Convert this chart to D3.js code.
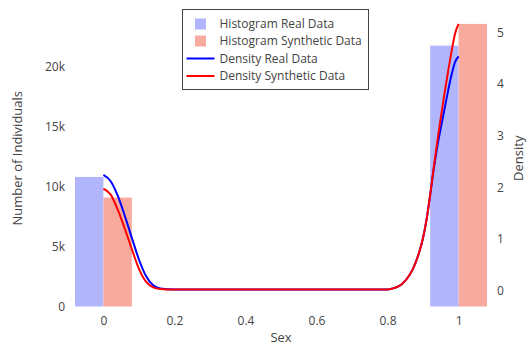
<!DOCTYPE html>
<html>
<head>
<meta charset="utf-8">
<script src="https://cdn.jsdelivr.net/npm/d3@7"></script>
<style>
  html, body { margin: 0; padding: 0; background: #fff; }
  svg { display: block; font-family: "Open Sans", Verdana, Arial, sans-serif; }
</style>
</head>
<body>
<svg id="chart" width="530" height="347"></svg>
<script>
// ---- data ----
const categories = [0, 1];
const histReal = [10800, 21750];
const histSynth = [9080, 23560];

const densRealX = [0, 0.02, 0.04, 0.06, 0.08, 0.1, 0.12, 0.14, 0.16, 0.2, 0.4, 0.6, 0.8, 0.82, 0.84, 0.86, 0.87, 0.88, 0.89, 0.9, 0.91, 0.92, 0.93, 0.94, 0.95, 0.96, 0.97, 0.98, 0.99, 1];
const densRealY = [2.24, 2.12, 1.84, 1.45, 1.02, 0.60, 0.28, 0.10, 0.04, 0.02, 0.02, 0.02, 0.02, 0.05, 0.12, 0.28, 0.40, 0.56, 0.76, 1.02, 1.38, 1.85, 2.35, 2.78, 3.15, 3.50, 3.85, 4.17, 4.42, 4.53];
const densSynthX = [0, 0.02, 0.04, 0.06, 0.08, 0.1, 0.12, 0.14, 0.16, 0.2, 0.4, 0.6, 0.8, 0.82, 0.84, 0.86, 0.87, 0.88, 0.89, 0.9, 0.91, 0.92, 0.93, 0.94, 0.95, 0.96, 0.97, 0.98, 0.99, 1];
const densSynthY = [1.97, 1.86, 1.57, 1.20, 0.80, 0.42, 0.17, 0.06, 0.03, 0.02, 0.02, 0.02, 0.02, 0.05, 0.12, 0.28, 0.40, 0.56, 0.76, 1.02, 1.38, 1.85, 2.38, 2.88, 3.35, 3.80, 4.22, 4.62, 4.97, 5.16];

const xTicks = [0, 0.2, 0.4, 0.6, 0.8, 1];
const yLeftTicks = [0, 5000, 10000, 15000, 20000];
const yLeftTickLabels = ["0", "5k", "10k", "15k", "20k"];
const yRightTicks = [0, 1, 2, 3, 4, 5];

const legendLabels = ["Histogram Real Data", "Histogram Synthetic Data", "Density Real Data", "Density Synthetic Data"];

// ---- layout ----
const plotL = 75, plotR = 487, plotT = 10, plotB = 306.5;
const halfBin = 0.08;
const colRealBar = "#b1b6fc", colSynthBar = "#f7aa9d";
const colRealLine = "#0000ff", colSynthLine = "#ff0000";
const textCol = "#444";

const svg = d3.select("#chart");

const x = d3.scaleLinear().domain([-0.08, 1.08]).range([plotL, plotR]);
const yL = d3.scaleLinear().domain([0, 24720]).range([plotB, plotT]);
const yR = d3.scaleLinear().domain([-0.31, 5.43]).range([plotB, plotT]);

// bars
const barData = [];
categories.forEach((c, i) => {
  barData.push({x0: c - halfBin, x1: c, v: histReal[i], col: colRealBar});
  barData.push({x0: c, x1: c + halfBin, v: histSynth[i], col: colSynthBar});
});
svg.append("g").selectAll("rect").data(barData).join("rect")
  .attr("x", d => x(d.x0))
  .attr("width", d => x(d.x1) - x(d.x0))
  .attr("y", d => yL(d.v))
  .attr("height", d => yL(0) - yL(d.v))
  .attr("fill", d => d.col);

// density lines
const line = d3.line().x(d => x(d[0])).y(d => yR(d[1])).curve(d3.curveMonotoneX);
svg.append("path").datum(d3.zip(densRealX, densRealY))
  .attr("d", line).attr("fill", "none").attr("stroke", colRealLine).attr("stroke-width", 2);
svg.append("path").datum(d3.zip(densSynthX, densSynthY))
  .attr("d", line).attr("fill", "none").attr("stroke", colSynthLine).attr("stroke-width", 2);

// axes
const xAxis = d3.axisBottom(x).tickValues(xTicks).tickSize(0).tickPadding(10)
  .tickFormat(d => d === 0 ? "0" : (d === 1 ? "1" : d3.format(".1f")(d)));
const gx = svg.append("g").attr("transform", `translate(0,${plotB})`).call(xAxis);

const yLAxis = d3.axisLeft(yL).tickValues(yLeftTicks).tickSize(0).tickPadding(10)
  .tickFormat((d, i) => yLeftTickLabels[i]);
const gyl = svg.append("g").attr("transform", `translate(${plotL},0)`).call(yLAxis);

const yRAxis = d3.axisRight(yR).tickValues(yRightTicks).tickSize(0).tickPadding(10)
  .tickFormat(d3.format("d"));
const gyr = svg.append("g").attr("transform", `translate(${plotR},0)`).call(yRAxis);

[gx, gyl, gyr].forEach(g => {
  g.select(".domain").remove();
  g.selectAll("text").attr("fill", textCol).style("font-size", "12px")
    .style("font-family", '"Open Sans", Verdana, Arial, sans-serif');
});

// axis titles
svg.append("text").attr("x", (plotL + plotR) / 2).attr("y", 342)
  .attr("text-anchor", "middle").attr("fill", textCol).style("font-size", "13px").text("Sex");
svg.append("text").attr("transform", `translate(22,${(plotT + plotB) / 2}) rotate(-90)`)
  .attr("text-anchor", "middle").attr("fill", textCol).style("font-size", "13px").text("Number of Individuals");
svg.append("text").attr("transform", `translate(523,${(plotT + plotB) / 2}) rotate(-90)`)
  .attr("text-anchor", "middle").attr("fill", textCol).style("font-size", "13px").text("Density");

// legend
const lg = svg.append("g").attr("transform", "translate(182.5,9.5)");
lg.append("rect").attr("width", 186).attr("height", 80)
  .attr("fill", "#fff").attr("stroke", "#444").attr("stroke-width", 1);
const rowY = [14.5, 31.5, 49, 66.5];
legendLabels.forEach((lab, i) => {
  const yy = rowY[i];
  if (i < 2) {
    lg.append("rect").attr("x", 12.5).attr("y", yy - 5.5).attr("width", 11).attr("height", 11)
      .attr("fill", i === 0 ? colRealBar : colSynthBar);
  } else {
    lg.append("line").attr("x1", 4).attr("x2", 32).attr("y1", yy).attr("y2", yy)
      .attr("stroke", i === 2 ? colRealLine : colSynthLine).attr("stroke-width", 2);
  }
  lg.append("text").attr("x", 37).attr("y", yy).attr("dy", "0.35em")
    .attr("fill", textCol).style("font-size", "12px").text(lab);
});
</script>
</body>
</html>
